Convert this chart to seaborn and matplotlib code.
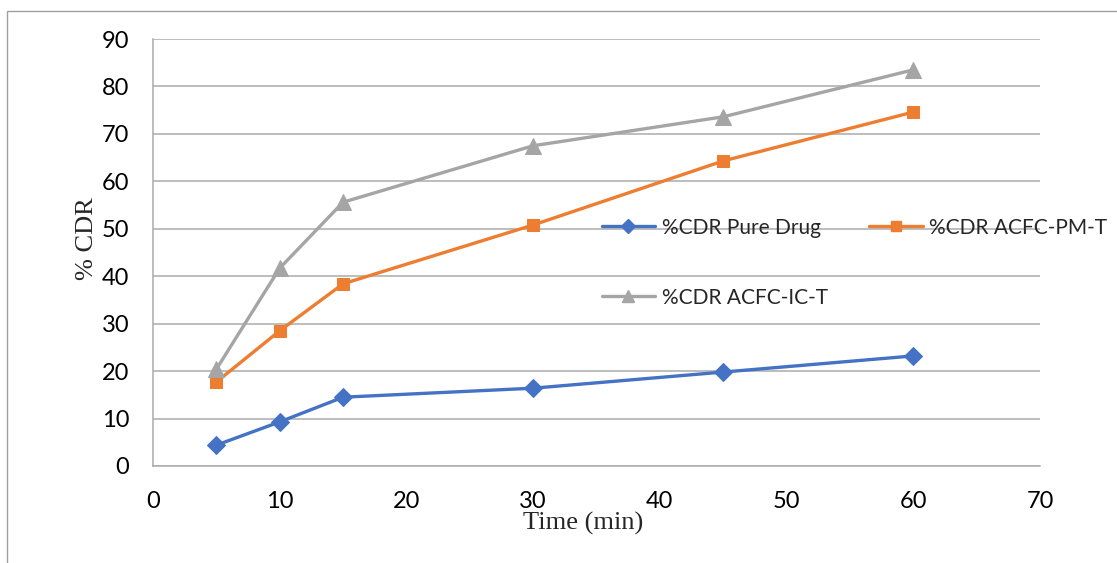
import matplotlib
matplotlib.use("Agg")
import matplotlib.pyplot as plt
import seaborn as sns
import pandas as pd
from matplotlib.patches import Rectangle
from matplotlib.lines import Line2D

time_min = [5, 10, 15, 30, 45, 60]
pure_drug = [4.4, 9.3, 14.5, 16.4, 19.8, 23.2]
acfc_pm_t = [17.7, 28.5, 38.4, 50.8, 64.3, 74.6]
acfc_ic_t = [20.4, 41.7, 55.6, 67.5, 73.6, 83.5]
series_names = ["%CDR Pure Drug", "%CDR ACFC-PM-T", "%CDR ACFC-IC-T"]
x_ticks = [0, 10, 20, 30, 40, 50, 60, 70]
y_ticks = [0, 10, 20, 30, 40, 50, 60, 70, 80, 90]

colors = ["#4472C4", "#ED7D31", "#A5A5A5"]
markers = ["D", "s", "^"]
msizes = [9, 9, 11]

df = pd.concat([
    pd.DataFrame({"Time": time_min, "CDR": vals, "Series": name})
    for name, vals in zip(series_names, [pure_drug, acfc_pm_t, acfc_ic_t])
])

sns.set_style("white")
plt.rcParams["font.family"] = ["Lato", "DejaVu Sans"]

fig = plt.figure(figsize=(11.17, 5.63), dpi=100)
ax = fig.add_axes([153/1117, 1-466/563, (1040-153)/1117, (466-39)/563])

for name, c, m, ms in zip(series_names, colors, markers, msizes):
    sns.lineplot(data=df[df["Series"] == name], x="Time", y="CDR", ax=ax,
                 color=c, marker=m, markersize=ms, markeredgecolor=c,
                 linewidth=2.4, legend=False, zorder=3)

ax.set_xlim(0, 70)
ax.set_ylim(0, 90)
ax.set_xticks(x_ticks)
ax.set_yticks(y_ticks)
grid_c = "#ABABAB"
ax.yaxis.grid(True, color=grid_c, linewidth=1.1)
ax.xaxis.grid(False)
for s in ["top", "right"]:
    ax.spines[s].set_visible(False)
for s in ["left", "bottom"]:
    ax.spines[s].set_color(grid_c)
    ax.spines[s].set_linewidth(1.1)
ax.tick_params(axis="both", which="both", direction="out",
               width=1.1, color=grid_c, labelsize=17, labelcolor="black")
ax.tick_params(axis="x", length=6, pad=12)
ax.tick_params(axis="y", length=7, pad=10)
ax.set_xlabel("")
ax.set_ylabel("")

fig.text(583/1117, 1-523/563, "Time (min)", ha="center", va="center",
         fontsize=19, family="Liberation Serif")
fig.text(87/1117, 1-239/563, "% CDR", ha="center", va="center",
         rotation=90, fontsize=19, family="Liberation Serif")

handles = [Line2D([0], [0], color=c, marker=m, markersize=ms * 0.8, linewidth=2.4,
                  markeredgecolor=c) for c, m, ms in zip(colors, markers, msizes)]
order = [0, 2, 1]
fig.legend([handles[i] for i in order], [series_names[i] for i in order],
           loc="upper left", bbox_to_anchor=(583/1117, 1-199/563), ncol=2,
           frameon=False, fontsize=15, handlelength=2.55, columnspacing=2.0,
           labelspacing=2.4, handletextpad=0.33)

fig.patches.append(Rectangle((7/1117, -0.1), 1.2, 1-11/563+0.1,
                             transform=fig.transFigure, fill=False,
                             edgecolor="#A0A0A0", linewidth=1.0))

fig.savefig("out.png", dpi=100)
